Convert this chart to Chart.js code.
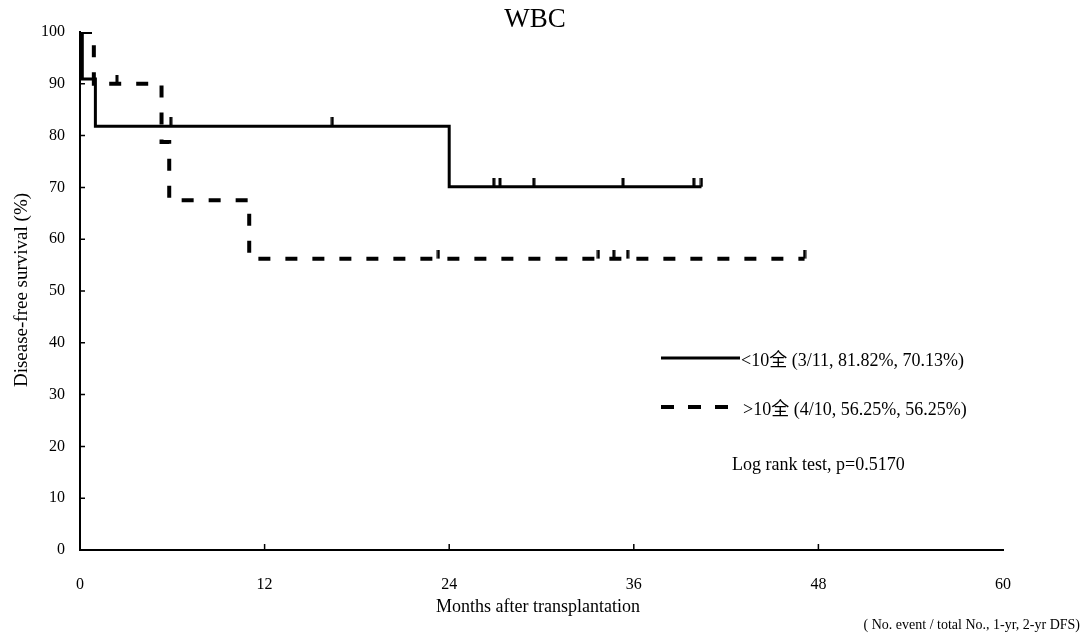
<!DOCTYPE html>
<html>
<head>
<meta charset="utf-8">
<title>WBC</title>
<script src="https://cdn.jsdelivr.net/npm/chart.js@4"></script>
<style>
  html, body { margin: 0; padding: 0; background: #ffffff; }
  canvas { display: block; }
</style>
</head>
<body>
<canvas id="chart-wbc" width="1089" height="636"></canvas>
<script>
// Kaplan-Meier steps: time of each event (months) and survival after it (%)
const lowTimes = [0, 0.15, 1.0, 24.0, 40.4];
const lowSurvival = [100, 90.91, 81.82, 70.13, 70.13];
const lowCensored = [5.9, 16.4, 26.9, 27.3, 29.5, 35.3, 39.9, 40.4];

const highTimes = [0, 0.9, 5.3, 5.8, 11.0, 47.1];
const highSurvival = [100, 90, 78.75, 67.5, 56.25, 56.25];
const highCensored = [2.4, 23.3, 33.7, 34.7, 35.6, 47.1];

const monthTicks = [0, 12, 24, 36, 48, 60];
const percentTicks = [0, 10, 20, 30, 40, 50, 60, 70, 80, 90, 100];

const lowLabel = "<10全 (3/11, 81.82%, 70.13%)";
const highLabel = ">10全 (4/10, 56.25%, 56.25%)";
const logRankText = "Log rank test, p=0.5170";
const footNote = "( No. event / total No., 1-yr, 2-yr DFS)";

const SERIF = "'Liberation Serif', 'Noto Sans CJK SC', serif";

function toPoints(times, values) {
  return times.map((t, i) => ({ x: t, y: values[i] }));
}

// survival level the curve is at when a patient is censored
function survivalAt(times, values, t) {
  let s = values[0];
  for (let i = 0; i < times.length; i++) {
    if (times[i] <= t) s = values[i];
  }
  return s;
}

function censorPoints(censored, times, values) {
  return censored.map((t) => ({ x: t, y: survivalAt(times, values, t) }));
}

// short upright tick sitting on top of the curve
function makeTick(height) {
  const c = document.createElement("canvas");
  c.width = 4;
  c.height = height * 2;
  const g = c.getContext("2d");
  g.fillStyle = "#000";
  g.fillRect(0.5, 0, 3, height);
  return c;
}
const tickMark = makeTick(9);

const extras = {
  id: "kmExtras",
  afterDraw(chart) {
    const ctx = chart.ctx;
    const area = chart.chartArea;
    const xs = chart.scales.x;
    const ys = chart.scales.y;
    ctx.save();
    ctx.fillStyle = "#000";
    ctx.strokeStyle = "#000";

    // inward tick marks
    ctx.lineWidth = 1.5;
    ctx.beginPath();
    percentTicks.slice(1, -1).forEach((v) => {
      const y = ys.getPixelForValue(v);
      ctx.moveTo(area.left, y);
      ctx.lineTo(area.left + 5, y);
    });
    monthTicks.slice(1, -1).forEach((v) => {
      const x = xs.getPixelForValue(v);
      ctx.moveTo(x, area.bottom);
      ctx.lineTo(x, area.bottom - 6);
    });
    ctx.stroke();

    // title
    ctx.textAlign = "center";
    ctx.textBaseline = "middle";
    ctx.font = "27px " + SERIF;
    ctx.fillText("WBC", 535, 20);

    // axis titles
    ctx.font = "18px " + SERIF;
    ctx.fillText("Months after transplantation", 538, 607);
    ctx.save();
    ctx.translate(22, 290);
    ctx.rotate(-Math.PI / 2);
    ctx.font = "19px " + SERIF;
    ctx.fillText("Disease-free survival (%)", 0, 0);
    ctx.restore();

    // legend
    ctx.lineWidth = 3;
    ctx.beginPath();
    ctx.moveTo(661, 358);
    ctx.lineTo(740, 358);
    ctx.stroke();
    ctx.lineWidth = 4;
    ctx.setLineDash([13, 14]);
    ctx.beginPath();
    ctx.moveTo(661, 407);
    ctx.lineTo(729, 407);
    ctx.stroke();
    ctx.setLineDash([]);

    ctx.textAlign = "left";
    ctx.font = "18px " + SERIF;
    ctx.fillText(lowLabel, 741, 361);
    ctx.fillText(highLabel, 743, 410);
    ctx.fillText(logRankText, 732, 465);

    ctx.font = "14px " + SERIF;
    ctx.textAlign = "right";
    ctx.fillText(footNote, 1080, 625);
    ctx.restore();
  },
};

const ctxWbc = document.getElementById("chart-wbc").getContext("2d");

const chartWbc = new Chart(ctxWbc, {
  type: "scatter",
  data: {
    datasets: [
      {
        label: lowLabel,
        data: toPoints(lowTimes, lowSurvival),
        showLine: true,
        stepped: "before",
        borderColor: "#000",
        borderWidth: 3,
        pointRadius: 0,
      },
      {
        label: highLabel,
        data: toPoints(highTimes, highSurvival),
        showLine: true,
        stepped: "before",
        borderColor: "#000",
        borderWidth: 4,
        borderDash: [12, 15],
        pointRadius: 0,
      },
      {
        label: "censored <10",
        data: censorPoints(lowCensored, lowTimes, lowSurvival),
        showLine: false,
        pointStyle: tickMark,
      },
      {
        label: "censored >10",
        data: censorPoints(highCensored, highTimes, highSurvival),
        showLine: false,
        pointStyle: tickMark,
      },
    ],
  },
  options: {
    responsive: false,
    animation: false,
    devicePixelRatio: 1,
    layout: {
      padding: { left: 0, top: 32, right: 86, bottom: 0 },
    },
    scales: {
      x: {
        type: "linear",
        min: 0,
        max: 60,
        afterFit: (scale) => {
          scale.height = 86;
        },
        afterBuildTicks: (scale) => {
          scale.ticks = monthTicks.map((v) => ({ value: v }));
        },
        grid: { display: false, drawTicks: false },
        border: { display: true, color: "#000", width: 2 },
        ticks: {
          padding: 25,
          color: "#000",
          font: { family: SERIF, size: 16 },
        },
      },
      y: {
        type: "linear",
        min: 0,
        max: 100,
        afterFit: (scale) => {
          scale.width = 80;
        },
        afterBuildTicks: (scale) => {
          scale.ticks = percentTicks.map((v) => ({ value: v }));
        },
        grid: { display: false, drawTicks: false },
        border: { display: true, color: "#000", width: 2 },
        ticks: {
          padding: 15,
          color: "#000",
          font: { family: SERIF, size: 16 },
        },
      },
    },
    plugins: {
      legend: { display: false },
      tooltip: { enabled: false },
    },
  },
  plugins: [extras],
});
</script>
</body>
</html>
